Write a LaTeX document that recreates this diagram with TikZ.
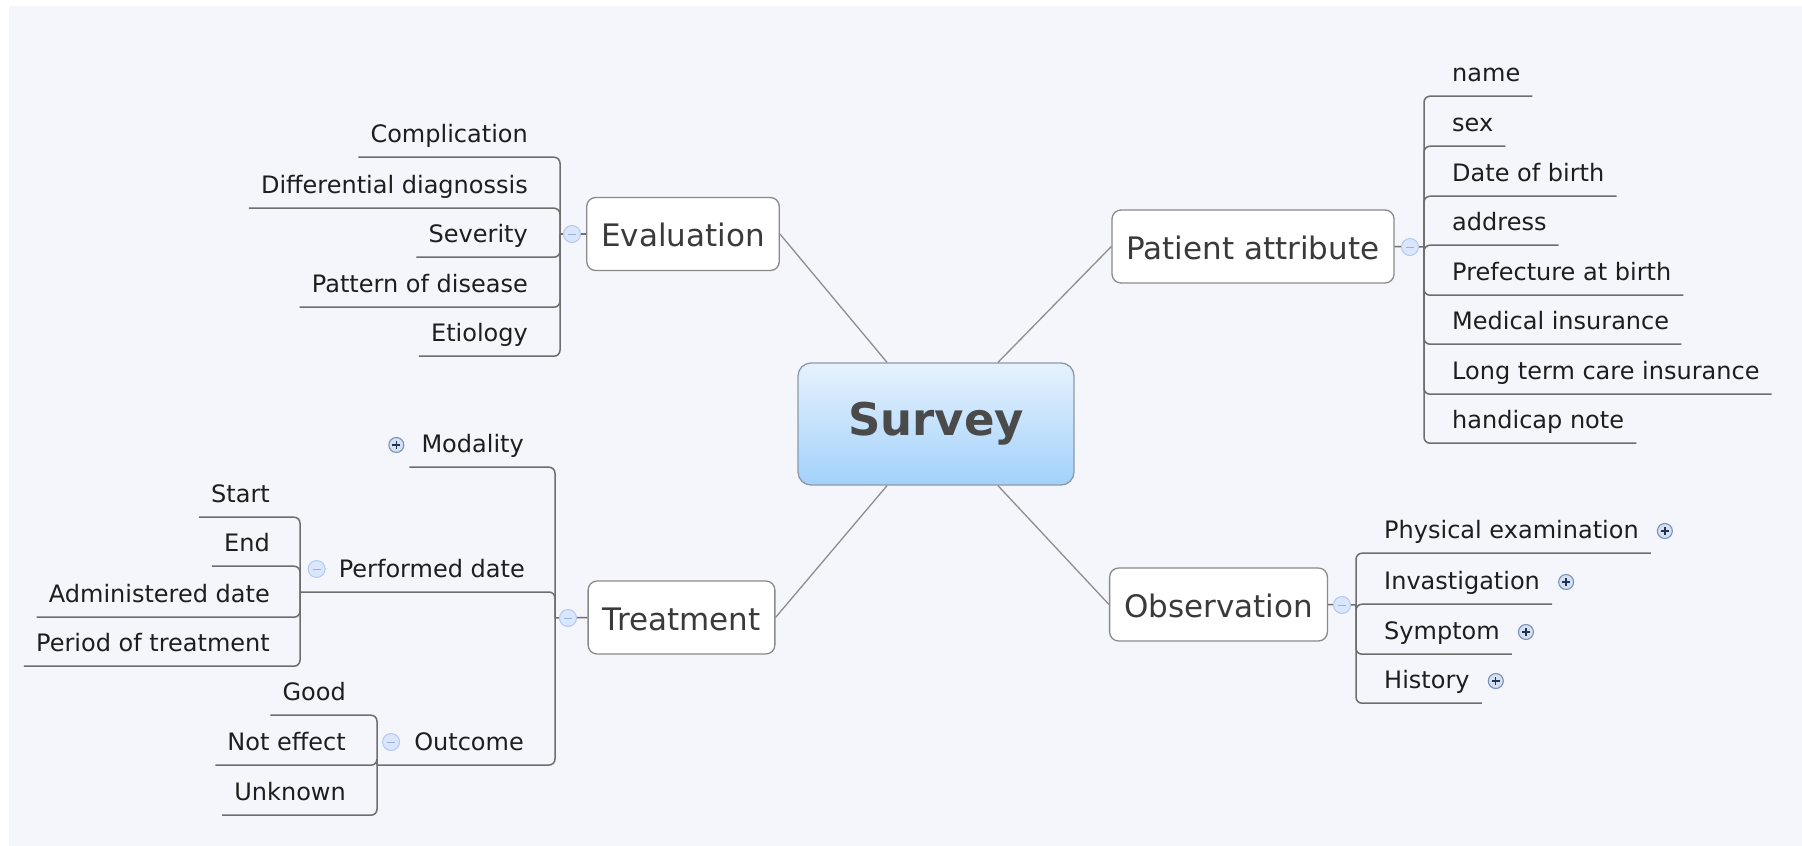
\documentclass[tikz,border=0pt]{standalone}
\usepackage{fontspec}
\setmainfont{DejaVu Sans}
\usetikzlibrary{calc}
\definecolor{bg}{HTML}{F5F6FC}
\definecolor{txt}{HTML}{1E1E1E}
\definecolor{ttxt}{HTML}{3A3A3A}
\definecolor{survc}{HTML}{4A4A4A}
\definecolor{brc}{HTML}{6E6E6E}
\definecolor{conc}{HTML}{8E8E8E}
\definecolor{boxc}{HTML}{8A8A8A}
\definecolor{sbox}{HTML}{8E99A6}
\definecolor{stop}{HTML}{E6F2FD}
\definecolor{sbot}{HTML}{A3D1FB}
\definecolor{minf}{HTML}{D9E6FB}
\definecolor{mind}{HTML}{B3C9F1}
\definecolor{minl}{HTML}{98B2E4}
\definecolor{plf}{HTML}{D4E1F4}
\definecolor{pld}{HTML}{7A90B5}
\definecolor{pll}{HTML}{22324F}
\tikzset{
  conn/.style={draw=conc, line width=1.3pt},
  brk/.style={draw=brc, line width=1.5pt, rounded corners=6pt},
  topic/.style={draw=boxc, line width=1.3pt, fill=white, rounded corners=9pt,
    inner xsep=14.5pt, inner ysep=0pt, minimum height=73pt,
    text height=27pt, text depth=2pt, font=\fontsize{31}{36}\selectfont, text=ttxt},
  central/.style={draw=sbox, line width=1.3pt, top color=stop, bottom color=sbot,
    rounded corners=13pt, minimum width=276pt, minimum height=122pt,
    text height=33pt, text depth=11pt, font=\fontsize{45}{50}\selectfont\bfseries, text=survc},
  leaf/.style={inner xsep=12pt, inner ysep=0pt, text height=18pt, text depth=15pt,
    font=\fontsize{24}{28}\selectfont, text=txt},
  lleaf/.style={leaf, anchor=base east},
  rleaf/.style={leaf, anchor=base west},
  minus/.style={circle, draw=mind, fill=minf, line width=1pt, minimum size=17pt, inner sep=0pt,
    path picture={\draw[minl, line width=1pt]
      ([xshift=-4pt]path picture bounding box.center) -- ([xshift=4pt]path picture bounding box.center);}},
  plus/.style={circle, draw=pld, fill=plf, line width=1.1pt, minimum size=15pt, inner sep=0pt,
    path picture={\draw[pll, line width=1.3pt]
      ([xshift=-4pt]path picture bounding box.center) -- ([xshift=4pt]path picture bounding box.center)
      ([yshift=-4pt]path picture bounding box.center) -- ([yshift=4pt]path picture bounding box.center);}},
}
\begin{document}
\begin{tikzpicture}[x=1pt, y=-1pt]
\useasboundingbox (0,0) rectangle (1802,846);
\fill[white] (0,0) rectangle (1802,846);
\fill[bg] (9,6) rectangle (1802,846);

% central and main topics
\node[central] (sur) at (936,424) {Survey};
\node[topic] (eval) at (683,234) {Evaluation};
\node[topic] (pat) at (1253,246.5) {Patient attribute};
\node[topic] (obs) at (1218.5,604.5) {Observation};
\node[topic] (tre) at (681.5,617.5) {Treatment};

% connectors from the centre
\draw[conn] ($(sur.north)+(-49,0)$) -- (eval.east);
\draw[conn] ($(sur.north)+(62,0)$) -- (pat.west);
\draw[conn] ($(sur.south)+(-49,0)$) -- (tre.east);
\draw[conn] ($(sur.south)+(62,0)$) -- (obs.west);

% ---------- Evaluation ----------
\coordinate (evj) at (560,234);
\node[lleaf] (ev1) at (540,142) {Complication};
\node[lleaf] (ev2) at (540,193) {Differential diagnossis};
\node[lleaf] (ev3) at (540,242) {Severity};
\node[lleaf] (ev4) at (540,292) {Pattern of disease};
\node[lleaf] (ev5) at (540,341) {Etiology};
\foreach \c in {ev1,ev2,ev3,ev4,ev5} \draw[brk] (evj) |- (\c.south west);
\draw[brk] (eval.west) -- (evj);
\node[minus] (evc) at (572,234) {};

% ---------- Patient attribute ----------
\coordinate (paj) at (1424,247);
\node[rleaf] (pa1) at (1440,81) {name};
\node[rleaf] (pa2) at (1440,131) {sex};
\node[rleaf] (pa3) at (1440,181) {Date of birth};
\node[rleaf] (pa4) at (1440,230) {address};
\node[rleaf] (pa5) at (1440,280) {Prefecture at birth};
\node[rleaf] (pa6) at (1440,329) {Medical insurance};
\node[rleaf] (pa7) at (1440,379) {Long term care insurance};
\node[rleaf] (pa8) at (1440,428) {handicap note};
\foreach \c in {pa1,pa2,pa3,pa4,pa5,pa6,pa7,pa8} \draw[brk] (paj) |- (\c.south east);
\draw[brk] (pat.east) -- (paj);
\node[minus] (pac) at (1410,247) {};

% ---------- Observation ----------
\coordinate (obj) at (1356,605);
\node[rleaf] (ob1) at (1372,538) {Physical examination};
\node[rleaf] (ob2) at (1372,589) {Invastigation};
\node[rleaf] (ob3) at (1372,639) {Symptom};
\node[rleaf] (ob4) at (1372,688) {History};
\foreach \c in {ob1,ob2,ob3,ob4} {
  \draw[brk] (obj) |- (\c.south east);
  \node[plus] (\c p) at ($(\c.base east)+(14,-7)$) {};
}
\draw[brk] (obs.east) -- (obj);
\node[minus] (obc) at (1342,605) {};

% ---------- Treatment ----------
\coordinate (trj) at (555,618);
\node[lleaf] (mo) at (536,452) {Modality};
\node[lleaf] (pd) at (537,577) {Performed date};
\node[lleaf] (oc) at (536,750) {Outcome};
\coordinate (pdj) at (300,592);
\coordinate (ocj) at (377,765);
\draw[brk] (trj) |- (mo.south west);
\draw[brk] (trj) |- (pdj);
\draw[brk] (trj) |- (ocj);
\draw[brk] (tre.west) -- (trj);
\node[minus] (trc) at (568,618) {};
\node[plus] (mop) at ($(mo.base west)+(-13,-7)$) {};
\node[minus] (pdc) at ($(pd.base west)+(-10,-8)$) {};
\node[minus] (occ) at ($(oc.base west)+(-11,-8)$) {};

% Performed date children
\node[lleaf] (st) at (282,502) {Start};
\node[lleaf] (en) at (282,551) {End};
\node[lleaf] (ad) at (282,602) {Administered date};
\node[lleaf] (pe) at (282,651) {Period of treatment};
\foreach \c in {st,en,ad,pe} \draw[brk] (pdj) |- (\c.south west);

% Outcome children
\node[lleaf] (go) at (358,700) {Good};
\node[lleaf] (ne) at (358,750) {Not effect};
\node[lleaf] (un) at (358,800) {Unknown};
\foreach \c in {go,ne,un} \draw[brk] (ocj) |- (\c.south west);
\end{tikzpicture}
\end{document}
